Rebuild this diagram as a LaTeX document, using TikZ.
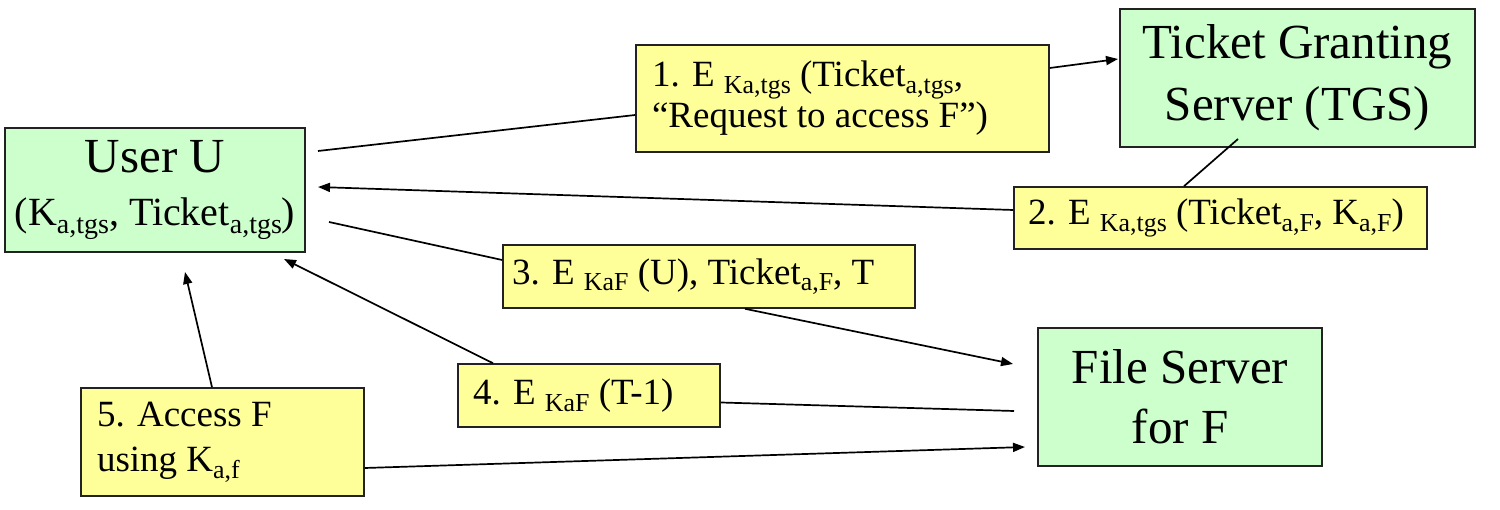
\documentclass[tikz,border=0pt]{standalone}
\usepackage{fontspec}
\setmainfont{Liberation Serif}
\usepackage{graphicx}
\usetikzlibrary{arrows.meta,calc}
\definecolor{srvgreen}{HTML}{CCFFCC}
\definecolor{msgyellow}{HTML}{FFFF99}
\definecolor{edgegray}{HTML}{222222}
\newcommand\lo[1]{\raisebox{-0.18em}{\scalebox{0.7}{#1}}}
\newcommand\setfs[2]{\rmfamily\fontsize{#1}{#2}\selectfont
  \spaceskip=0pt\relax\xspaceskip=0pt\relax\parindent=0pt\relax\parskip=0pt\relax}
\begin{document}
\begin{tikzpicture}[x=1pt,y=-1pt,
  srvbox/.style={draw=edgegray, fill=srvgreen, line width=1.6pt, align=center, inner xsep=8pt, inner ysep=0pt},
  msgbox/.style={draw=edgegray, fill=msgyellow, line width=1.6pt, align=left, inner ysep=0pt},
  conn/.style={line width=1.7pt},
  arr/.style={conn, -{Triangle[length=12pt,width=9pt]}}
]
\path[use as bounding box] (0,0) rectangle (1500,510);

% servers / user
\node[srvbox, text width=284pt, minimum height=124pt] (user) at (155,190)
  {\setfs{49}{53}\mbox{User U}\par\setfs{40}{53}\mbox{(K\lo{a,tgs}, Ticket\lo{a,tgs})}\par};
\node[srvbox, text width=339pt, minimum height=138pt] (tgs) at (1297.5,78)
  {\setfs{49}{62}\mbox{Ticket Granting}\par\mbox{Server (TGS)}\par};
\node[srvbox, text width=268pt, minimum height=138pt] (fs) at (1180,397)
  {\setfs{49}{60}\mbox{File Server}\par\mbox{for F}\par};

% messages
\node[msgbox, inner xsep=16pt, text width=381pt, minimum height=107pt] (msg1) at (842.5,98.5)
  {\setfs{37}{41}\mbox{1. E \lo{Ka,tgs} (Ticket\lo{a,tgs},}\par\mbox{“Request to access F”)}\par};
\node[msgbox, inner xsep=14pt, text width=385pt, minimum height=62pt] (msg2) at (1220.5,218)
  {\setfs{37}{41}\mbox{2. E \lo{Ka,tgs} (Ticket\lo{a,F}, K\lo{a,F})}\par};
\node[msgbox, inner xsep=9pt, text width=394pt, minimum height=63pt] (msg3) at (709,276.5)
  {\setfs{37}{41}\mbox{3. E \lo{KaF} (U), Ticket\lo{a,F}, T}\par};
\node[msgbox, inner xsep=15pt, text width=232pt, minimum height=63pt] (msg4) at (589,395.5)
  {\setfs{37}{41}\mbox{4. E \lo{KaF} (T-1)}\par};
\node[msgbox, inner xsep=16pt, text width=251pt, minimum height=108pt] (msg5) at (222.5,442)
  {\setfs{37}{45}\mbox{5. Access F}\par\mbox{using K\lo{a,f}}\par};

% free ends
\coordinate (u1) at (318,151);
\coordinate (t1) at (1118,59);
\coordinate (t2) at (1238,139);
\coordinate (u2) at (318,187);
\coordinate (u3) at (329,222);
\coordinate (f3) at (1013,364);
\coordinate (f4) at (1014,411);
\coordinate (u4) at (284,259);
\coordinate (u5) at (185,272);
\coordinate (f5) at (1025,447);

% step 1
\draw[conn] (u1) -- ($(msg1.west)+(0,16.5)$);
\draw[arr] ($(msg1.east)+(0,-30.5)$) -- (t1);
% step 2
\draw[conn] (t2) -- ($(msg2.north)+(-36.5,0)$);
\draw[arr] ($(msg2.west)+(0,-8)$) -- (u2);
% step 3
\draw[conn] (u3) -- ($(msg3.west)+(0,-16.5)$);
\draw[arr] ($(msg3.south)+(36,0)$) -- (f3);
% step 4
\draw[conn] (f4) -- ($(msg4.east)+(0,7)$);
\draw[arr] ($(msg4.north)+(-96,0)$) -- (u4);
% step 5
\draw[arr] ($(msg5.north)+(-10.5,0)$) -- (u5);
\draw[arr] ($(msg5.east)+(0,26)$) -- (f5);
\end{tikzpicture}
\end{document}
